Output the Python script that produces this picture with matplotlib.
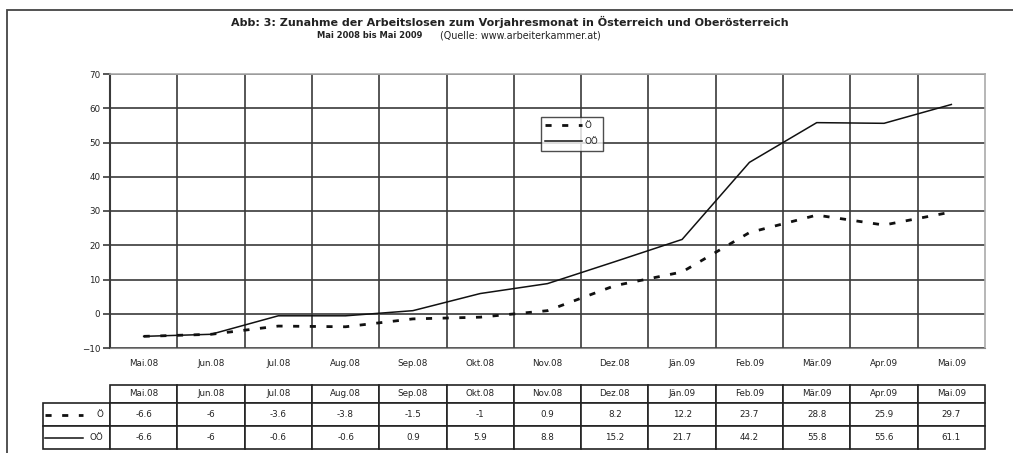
import numpy as np
import matplotlib
matplotlib.use("Agg")
import matplotlib.pyplot as plt
from matplotlib.patches import Rectangle
from matplotlib.table import Table

plt.rcParams['font.family'] = ['DejaVu Sans']

# data
months = ["Mai.08", "Jun.08", "Jul.08", "Aug.08", "Sep.08", "Okt.08", "Nov.08",
          "Dez.08", "Jän.09", "Feb.09", "Mär.09", "Apr.09", "Mai.09"]
oe = [-6.6, -6, -3.6, -3.8, -1.5, -1, 0.9, 8.2, 12.2, 23.7, 28.8, 25.9, 29.7]
ooe = [-6.6, -6, -0.6, -0.6, 0.9, 5.9, 8.8, 15.2, 21.7, 44.2, 55.8, 55.6, 61.1]
series_names = ["Ö", "OÖ"]
yticks = [-10, 0, 10, 20, 30, 40, 50, 60, 70]

W, H = 1013, 453
txtc = '#222222'
gridc = '#3a3a3a'
fs = 6.3

fig = plt.figure(figsize=(W / 100, H / 100), dpi=100)

# outer frame (only left and top edge inside the picture)
fig.patches.append(Rectangle((7 / W, -0.2), 1.2, 1 - 10 / H + 0.2, transform=fig.transFigure,
                             fill=False, edgecolor='#444444', lw=1.3, clip_on=False))

# ---------------- chart ----------------
pl, pr, pt, pb = 110, 985, 74, 348
ax = fig.add_axes([pl / W, 1 - pb / H, (pr - pl) / W, (pb - pt) / H])
x = np.arange(len(months))

ax.plot(x, oe, color='#111111', lw=2.0, linestyle=(0, (2.2, 3.8)), label=series_names[0])
ax.plot(x, ooe, color='#111111', lw=1.1, label=series_names[1])

ax.set_xlim(-0.5, len(months) - 0.5)
ax.set_ylim(-10, 70)
ax.set_yticks(yticks)
ax.set_xticks(x)
ax.set_xticklabels(months, fontsize=fs, color=txtc)
ax.set_xticks(np.arange(0.5, len(months) - 1), minor=True)
ax.tick_params(axis='x', which='both', length=0, pad=8)
ax.tick_params(axis='y', length=5, width=1.2, color=gridc, labelsize=fs, labelcolor=txtc, pad=2)
ax.grid(True, axis='y', which='major', color=gridc, lw=1.2)
ax.grid(True, axis='x', which='minor', color=gridc, lw=1.2)
ax.set_axisbelow(True)
ax.spines['left'].set_color(gridc)
ax.spines['left'].set_linewidth(1.5)
ax.spines['bottom'].set_color('#888888')
for s in ['top', 'right']:
    ax.spines[s].set_color('#aaaaaa')
    ax.spines[s].set_linewidth(1.2)

leg = ax.legend(loc='upper left', bbox_to_anchor=((541 - pl) / (pr - pl), (pb - 117) / (pb - pt)),
                borderaxespad=0, fancybox=False, edgecolor='#222222', fontsize=fs,
                handlelength=4.2, handletextpad=0.3, borderpad=0.5, labelspacing=0.8)
leg.get_frame().set_linewidth(1.0)
for t in leg.get_texts():
    t.set_color(txtc)

# ---------------- title ----------------
fig.text(0.5 + 3 / W, 1 - 22 / H, "Abb: 3: Zunahme der Arbeitslosen zum Vorjahresmonat in Österreich und Oberösterreich",
         ha='center', va='center', fontsize=8.0, fontweight='bold', color=txtc)
fig.text(422 / W, 1 - 35 / H, "Mai 2008 bis Mai 2009", ha='right', va='center',
         fontsize=6.0, fontweight='bold', color=txtc)
fig.text(440 / W, 1 - 35 / H, "(Quelle: www.arbeiterkammer.at)", ha='left', va='center',
         fontsize=6.9, color=txtc)

# ---------------- data table ----------------
cw = (pr - pl) / len(months)
tl, tt, tb = pl - cw, 385, 449
tx = fig.add_axes([tl / W, 1 - tb / H, (pr - tl) / W, (tb - tt) / H])
tx.axis('off')
rows = [[f"{v:g}" for v in oe], [f"{v:g}" for v in ooe]]
ncol = len(months) + 1
tab = Table(tx, bbox=[0, 0, 1, 1])
hts = [18, 23, 23]
# header row
tab.add_cell(0, 0, 1 / ncol, hts[0], text='', edgecolor='none', facecolor='none')
for j, m in enumerate(months):
    tab.add_cell(0, j + 1, 1 / ncol, hts[0], text=m, loc='center')
for i, (name, vals) in enumerate(zip(series_names, rows)):
    tab.add_cell(i + 1, 0, 1 / ncol, hts[i + 1], text=name, loc='right')
    for j, v in enumerate(vals):
        tab.add_cell(i + 1, j + 1, 1 / ncol, hts[i + 1], text=v, loc='center')
tab.auto_set_font_size(False)
tab.set_fontsize(fs)
for (r, c), cell in tab.get_celld().items():
    if r == 0 and c == 0:
        cell.set_linewidth(0)
        continue
    cell.set_edgecolor('#222222')
    cell.set_linewidth(1.2)
    cell.get_text().set_color(txtc)
tx.add_table(tab)

# legend samples inside the row label cells
row_y = [(23 + 11.5) / 64, 11.5 / 64]
x0, x1 = 2 / (pr - tl), 40 / (pr - tl)
tx.plot([x0, x1], [row_y[0]] * 2, transform=tx.transAxes, color='#111111',
        lw=2.0, linestyle=(0, (2.2, 3.8)), clip_on=False)
tx.plot([x0, x1], [row_y[1]] * 2, transform=tx.transAxes, color='#111111',
        lw=1.1, clip_on=False)

fig.savefig('out.png', dpi=100)
